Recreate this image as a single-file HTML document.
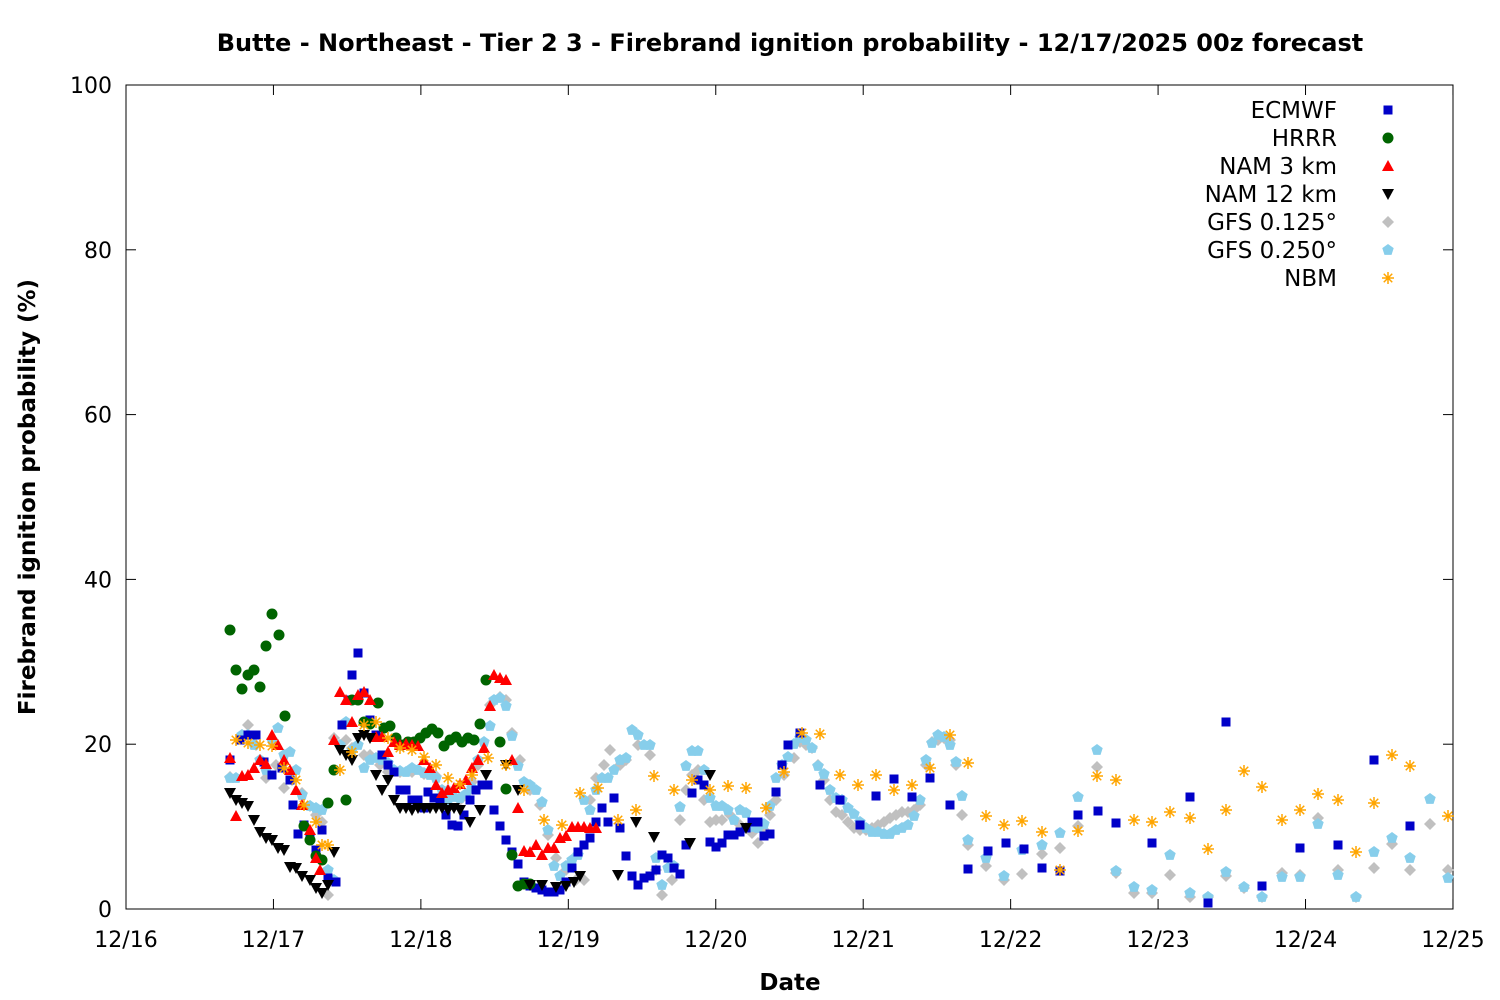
<!DOCTYPE html>
<html><head><meta charset="utf-8"><style>
html,body{margin:0;padding:0;background:#fff}
svg{display:block;font-family:"DejaVu Sans","Liberation Sans",sans-serif}
</style></head><body>
<svg id="s" width="1500" height="1000" xmlns="http://www.w3.org/2000/svg">
<rect width="1500" height="1000" fill="#fff"/>
<text x="790" y="51" font-size="24" font-weight="bold" text-anchor="middle">Butte - Northeast - Tier 2 3 - Firebrand ignition probability - 12/17/2025 00z forecast</text>
<g id="axes" stroke="#000" stroke-width="1" fill="none">
<rect x="126" y="85" width="1327" height="824"/>
</g>
<g id="ticks"></g>
<text x="790" y="990" font-size="23" font-weight="bold" text-anchor="middle">Date</text>
<text transform="translate(35,497) rotate(-90)" font-size="23" font-weight="bold" text-anchor="middle">Firebrand ignition probability (%)</text>
<g id="pts"></g>
<g font-size="23" text-anchor="end">
<text x="1337" y="118">ECMWF</text>
<text x="1337" y="146">HRRR</text>
<text x="1337" y="174">NAM 3 km</text>
<text x="1337" y="202">NAM 12 km</text>
<text x="1337" y="230">GFS 0.125°</text>
<text x="1337" y="258">GFS 0.250°</text>
<text x="1337" y="286">NBM</text>
</g>
</svg>
<script>
var NS="http://www.w3.org/2000/svg";
function el(t,a,p){var e=document.createElementNS(NS,t);for(var k in a)e.setAttribute(k,a[k]);(p||document.getElementById('pts')).appendChild(e);return e;}
var tk=document.getElementById('ticks');
for(var i=0;i<=5;i++){var y=909-i*164.8;
 el('line',{x1:126,x2:136,y1:y,y2:y,stroke:'#000'},tk);el('line',{x1:1443,x2:1453,y1:y,y2:y,stroke:'#000'},tk);
 var t=el('text',{x:112,y:y+8,'font-size':22,'text-anchor':'end'},tk);t.textContent=String(i*20);}
for(var d=0;d<=9;d++){var x=126+d*147.44;
 el('line',{x1:x,x2:x,y1:909,y2:899,stroke:'#000'},tk);el('line',{x1:x,x2:x,y1:85,y2:95,stroke:'#000'},tk);
 var t=el('text',{x:x,y:947,'font-size':22,'text-anchor':'middle'},tk);t.textContent='12/'+(16+d);}
function sq(x,y){el('rect',{x:x-4.5,y:y-4.5,width:9,height:9,fill:'#0000c8'});}
function ci(x,y){el('circle',{cx:x,cy:y,r:5.5,fill:'#006400'});}
function up(x,y){el('polygon',{points:(x-6)+','+(y+5)+' '+(x+6)+','+(y+5)+' '+x+','+(y-6),fill:'#f00'});}
function dn(x,y){el('polygon',{points:(x-6)+','+(y-5)+' '+(x+6)+','+(y-5)+' '+x+','+(y+6),fill:'#000'});}
function di(x,y){el('polygon',{points:x+','+(y-6)+' '+(x+6)+','+y+' '+x+','+(y+6)+' '+(x-6)+','+y,fill:'#c0c0c0'});}
function pe(x,y){var p=[];for(var k=0;k<5;k++){var a=-Math.PI/2+k*2*Math.PI/5;p.push((x+6*Math.cos(a))+','+(y+6*Math.sin(a)));}el('polygon',{points:p.join(' '),fill:'#87ceeb'});}
function st(x,y){var g='';for(var k=0;k<4;k++){var a=k*Math.PI/4;g+='M'+(x-6*Math.cos(a))+' '+(y-6*Math.sin(a))+'L'+(x+6*Math.cos(a))+' '+(y+6*Math.sin(a));}el('path',{d:g,stroke:'#ffa500','stroke-width':1.5,fill:'none'});}
function P(f,a){for(var i=0;i<a.length;i+=2)f(a[i],a[i+1]);}
var gfs125=[230,777,242,735,248,725,256,745,266,778,276,765,284,788,292,780,302,793,310,806,316,815,322,822,328,895,334,738,346,740,352,748,364,755,370,755,380,765,388,772,400,772,412,772,424,774,436,776,448,790,460,800,472,782,478,765,490,705,500,697,506,700,512,733,520,760,530,790,540,805,548,835,556,858,566,870,576,880,584,880,590,800,596,778,604,765,610,750,620,765,626,760,638,745,650,755,656,870,662,895,672,880,680,820,686,790,692,775,698,770,704,800,710,822,716,820,722,820,730,815,740,825,746,828,752,833,758,843,764,830,770,815,776,800,784,775,794,758,800,742,806,745,812,748,818,765,824,780,830,800,836,812,842,815,848,822,854,828,860,830,866,830,872,828,878,825,884,822,890,818,896,815,902,812,908,812,914,810,920,805,926,765,932,742,938,740,944,738,950,740,956,765,962,815,968,845,986,866,1004,880,1022,874,1042,854,1060,848,1078,826,1097,767,1116,873,1134,893,1152,893,1170,875,1190,897,1208,897,1226,876,1244,888,1262,897,1282,873,1300,875,1318,818,1338,870,1356,897,1374,868,1392,844,1410,870,1430,824,1448,870];
var gfs250=[230,778,236,778,242,735,248,735,254,745,260,760,266,770,272,740,278,728,284,755,290,752,296,770,302,795,310,806,316,808,322,810,328,870,334,880,340,745,346,722,352,750,358,745,364,768,370,760,376,758,382,760,388,763,394,770,400,771,406,772,412,768,418,770,424,773,430,775,436,778,442,790,448,800,454,797,460,798,466,794,472,788,478,760,484,742,490,726,494,700,500,698,506,706,512,736,518,766,524,782,530,785,536,790,542,802,548,830,554,866,560,876,566,866,572,860,578,855,584,800,590,810,596,790,602,778,608,778,614,770,620,760,626,758,632,730,638,735,644,745,650,745,656,858,662,885,668,868,674,866,680,807,686,766,692,751,698,751,704,770,710,798,716,806,722,806,728,810,734,820,740,810,746,813,752,827,758,828,764,824,770,806,776,778,782,765,788,757,794,744,800,738,806,740,812,748,818,766,824,774,830,790,836,798,842,800,848,808,854,814,860,822,866,828,872,832,878,832,884,834,890,834,896,830,902,828,908,825,914,816,920,800,926,760,932,743,938,735,944,737,950,745,956,762,962,796,968,840,986,858,1004,876,1022,850,1042,845,1060,833,1078,797,1097,750,1116,871,1134,887,1152,890,1170,855,1190,893,1208,897,1226,872,1244,887,1262,897,1282,877,1300,877,1318,824,1338,875,1356,897,1374,852,1392,838,1410,858,1430,799,1448,878];
P(di,gfs125);P(pe,gfs250);
P(sq,[230,760,240,740,248,735,256,735,264,762,272,775,282,768,290,780,293,805,298,834,304,825,310,838,316,850,322,830,328,878,336,882,342,725,348,700,352,675,358,653,364,693,370,720,376,735,382,755,388,765,394,772,400,790,406,790,412,800,418,800,424,808,428,792,434,798,440,800,446,815,452,825,458,826,464,815,470,800,476,790,482,785,488,785,494,810,500,826,506,840,512,852,518,864,524,882,530,886,536,888,542,890,548,892,554,892,560,890,566,882,572,868,578,852,584,845,590,838,596,822,602,808,608,822,614,798,620,828,626,856,632,876,638,885,644,878,650,876,656,870,662,855,668,858,674,868,680,874,686,845,692,793,698,780,704,785,710,842,716,847,722,843,728,835,734,835,740,832,746,828,752,822,758,822,764,836,770,834,776,792,782,765,788,745,800,733,820,785,840,800,860,825,876,796,894,779,912,797,930,778,950,805,968,869,988,851,1006,843,1024,849,1042,868,1060,871,1078,815,1098,811,1116,823,1152,843,1190,797,1208,903,1226,722,1262,886,1300,848,1338,845,1374,760,1410,826]);
P(ci,[230,630,236,670,242,689,248,675,254,670,260,687,266,646,272,614,279,635,285,716,304,826,310,840,316,856,322,860,328,803,334,770,346,800,352,700,358,700,364,722,370,724,378,703,384,728,390,726,396,738,402,745,408,742,414,742,420,738,426,733,432,729,438,733,444,746,450,740,456,737,462,742,468,738,474,740,480,724,486,680,500,742,506,789,512,855,518,886,524,884,530,884]);
P(up,[230,758,236,816,242,776,248,775,254,768,260,760,266,764,272,735,278,745,284,760,290,770,296,790,302,805,310,830,316,858,320,870,334,740,340,692,346,700,352,722,358,695,364,692,370,700,376,737,382,737,388,752,394,742,400,745,406,744,412,745,418,746,424,760,430,768,436,785,442,793,448,790,454,788,460,784,466,780,472,768,478,760,484,748,490,706,494,675,500,678,506,680,512,760,518,808,524,851,530,852,536,845,542,855,548,848,554,848,560,838,566,836,572,827,578,827,584,827,590,828,596,828]);
P(dn,[230,793,236,800,242,803,248,806,254,820,260,832,266,838,272,840,278,848,284,850,290,867,296,868,302,876,310,880,316,888,322,893,328,885,334,852,340,750,346,755,352,760,358,738,364,735,370,738,376,775,382,790,388,780,394,800,400,808,406,808,412,810,418,808,424,808,430,808,436,808,442,808,448,810,454,808,460,810,470,822,480,810,486,775,506,765,518,790,530,885,542,885,556,887,566,886,574,882,580,876,618,875,636,822,654,837,690,843,710,775,746,828]);
P(st,[236,740,248,743,260,745,272,746,284,768,296,780,304,805,316,822,322,845,328,845,340,770,352,752,364,725,376,722,388,738,400,748,412,750,424,757,436,765,448,778,460,784,472,775,488,758,506,765,524,790,544,820,562,825,580,793,598,788,618,820,636,810,654,776,674,790,692,780,710,790,728,786,746,788,766,808,784,772,802,733,820,734,840,775,858,785,876,775,894,790,912,785,930,768,950,735,968,763,986,816,1004,825,1022,821,1042,832,1060,870,1078,831,1097,776,1116,780,1134,820,1152,822,1170,812,1190,818,1208,849,1226,810,1244,771,1262,787,1282,820,1300,810,1318,794,1338,800,1356,852,1374,803,1392,755,1410,766,1448,816]);
sq(1388,110);ci(1388,138);up(1388,166);dn(1388,194);di(1388,222);pe(1388,250);st(1388,278);
</script>
</body></html>
